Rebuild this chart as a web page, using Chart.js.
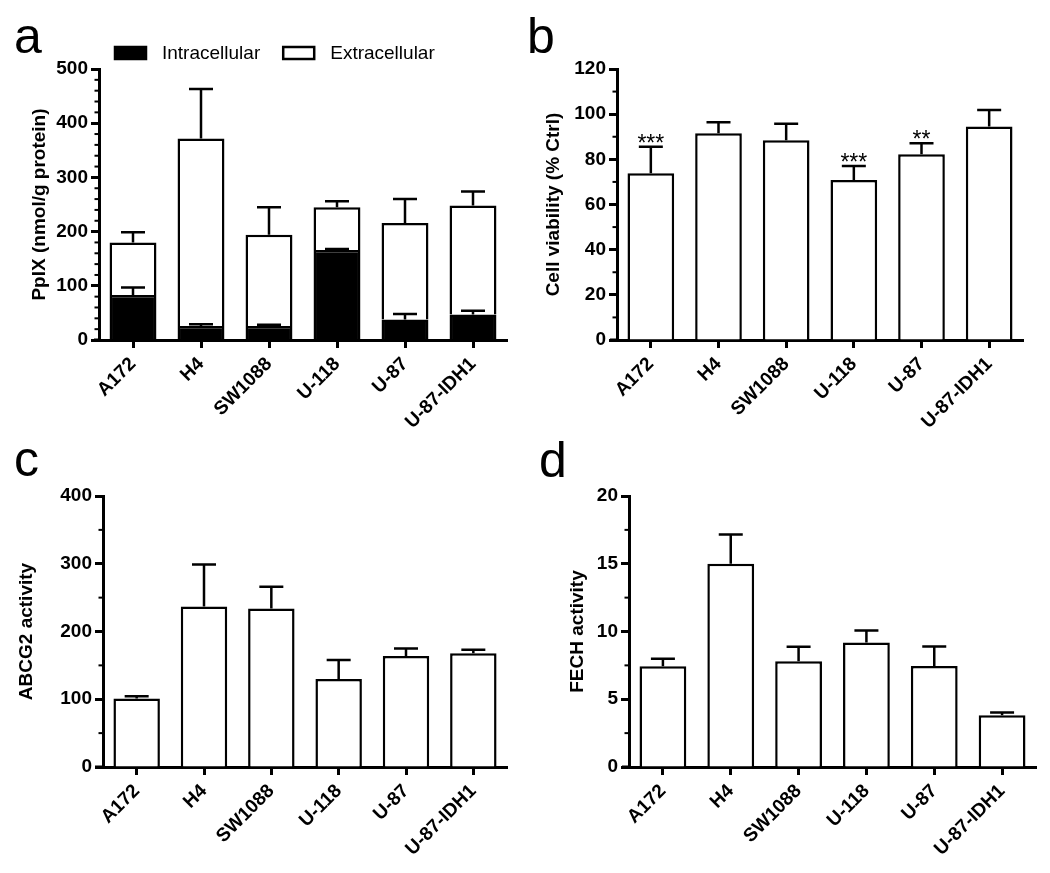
<!DOCTYPE html>
<html>
<head>
<meta charset="utf-8">
<script src="https://cdn.jsdelivr.net/npm/chart.js@4.4.0/dist/chart.umd.min.js"></script>
<style>
html,body{margin:0;padding:0;background:#fff;}
#wrap{position:relative;width:1050px;height:873px;overflow:hidden;}
canvas{position:absolute;}
</style>
</head>
<body>
<div id="wrap">
  <canvas id="ca" width="525" height="440" style="left:0;top:0"></canvas>
  <canvas id="cb" width="525" height="440" style="left:525px;top:0"></canvas>
  <canvas id="cc" width="525" height="433" style="left:0;top:440px"></canvas>
  <canvas id="cd" width="525" height="433" style="left:525px;top:440px"></canvas>
</div>
<script>
// ---------- data ----------
const cellLines = ['A172', 'H4', 'SW1088', 'U-118', 'U-87', 'U-87-IDH1'];

// panel a: PpIX (nmol/g protein)
const ppixIntra    = [83, 26, 26, 166, 38, 47];
const ppixIntraErr = [14, 3, 2, 2, 10, 7];
const ppixExtra    = [97, 346, 168, 79, 178, 201];
const ppixExtraErr = [19, 91, 51, 11, 44, 26];

// panel b: cell viability (% Ctrl)
const viability    = [73.8, 91.5, 88.4, 70.9, 82.2, 94.5];
const viabilityErr = [11.8, 4.9, 7.4, 6.2, 4.9, 7.4];
const viabilitySig = ['***', '', '', '***', '**', ''];

// panel c: ABCG2 activity
const abcg2    = [101, 237, 234, 130, 164, 168];
const abcg2Err = [3.5, 62, 32, 28, 11, 5];

// panel d: FECH activity
const fech    = [7.44, 15.0, 7.81, 9.19, 7.46, 3.82];
const fechErr = [0.54, 2.15, 1.06, 0.89, 1.44, 0.2];

// ---------- style ----------
const FONT = "'Liberation Sans', Arial, Helvetica, sans-serif";
Chart.defaults.font.family = FONT;
Chart.defaults.color = '#000';
const LW = 2.5;
const AXW = 3;

const errPlugin = {
  id: 'errBars',
  afterDatasetsDraw(chart) {
    const {ctx} = chart;
    const y = chart.scales.y;
    ctx.save();
    ctx.strokeStyle = '#000';
    ctx.fillStyle = '#000';
    ctx.lineWidth = LW;
    chart.data.datasets.forEach((ds, di) => {
      if (!ds.errors) return;
      const meta = chart.getDatasetMeta(di);
      meta.data.forEach((bar, i) => {
        const topVal = y.getValueForPixel(bar.y);
        const ey = y.getPixelForValue(topVal + ds.errors[i]);
        ctx.beginPath();
        ctx.moveTo(bar.x, bar.y);
        ctx.lineTo(bar.x, ey);
        ctx.moveTo(bar.x - 12, ey);
        ctx.lineTo(bar.x + 12, ey);
        ctx.stroke();
        if (ds.sig && ds.sig[i]) {
          ctx.font = '23px ' + FONT;
          ctx.textAlign = 'center';
          ctx.textBaseline = 'alphabetic';
          ctx.fillText(ds.sig[i], bar.x, ey + 4);
        }
      });
    });
    ctx.restore();
  }
};

const decorPlugin = {
  id: 'decor',
  afterDraw(chart, args, opts) {
    const {ctx, chartArea} = chart;
    const y = chart.scales.y;
    ctx.save();
    ctx.strokeStyle = '#000';
    ctx.fillStyle = '#000';
    // minor ticks
    ctx.lineWidth = 2;
    const nMinor = Math.round((y.max - y.min) / opts.minorStep);
    for (let k = 0; k <= nMinor; k++) {
      const v = y.min + k * opts.minorStep;
      const r = v / opts.majorStep;
      if (Math.abs(r - Math.round(r)) < 1e-6) continue;
      const py = y.getPixelForValue(v);
      ctx.beginPath();
      ctx.moveTo(chartArea.left - 4.5, py);
      ctx.lineTo(chartArea.left, py);
      ctx.stroke();
    }
    // x-axis short extension left of y-axis
    ctx.lineWidth = AXW;
    ctx.beginPath();
    ctx.moveTo(chartArea.left - opts.axisExt, chartArea.bottom);
    ctx.lineTo(chartArea.left, chartArea.bottom);
    ctx.stroke();
    // panel letter
    ctx.font = '50px ' + FONT;
    ctx.textAlign = 'left';
    ctx.textBaseline = 'alphabetic';
    ctx.fillText(opts.letter, opts.letterX, opts.letterY);
    // legend
    if (opts.legend) {
      let x = opts.legendX;
      const yTop = opts.legendY;
      ctx.font = '19px ' + FONT;
      ctx.textBaseline = 'middle';
      chart.data.datasets.forEach(ds => {
        ctx.fillStyle = ds.backgroundColor;
        ctx.fillRect(x, yTop, 31, 12);
        ctx.lineWidth = LW;
        ctx.strokeStyle = '#000';
        ctx.strokeRect(x, yTop, 31, 12);
        ctx.fillStyle = '#000';
        ctx.fillText(ds.label, x + 47, yTop + 6.5);
        x += 47 + ctx.measureText(ds.label).width + 23;
      });
    }
    ctx.restore();
  }
};

function xScale(h, stacked) {
  return {
    stacked: !!stacked,
    offset: true,
    grid: {display: true, drawOnChartArea: false, drawTicks: true, tickLength: 8,
           tickWidth: AXW, tickColor: '#000', offset: false},
    border: {display: true, color: '#000', width: AXW},
    ticks: {font: {size: 19, weight: 'bold'}, color: '#000', maxRotation: 45,
            minRotation: 45, autoSkip: false, padding: 5},
    afterFit: s => { s.height = h; }
  };
}
function yScale(max, step, title, width, titlePad, stacked) {
  return {
    stacked: !!stacked,
    min: 0, max: max,
    ticks: {stepSize: step, font: {size: 19, weight: 'bold'}, color: '#000', padding: 3},
    grid: {display: true, drawOnChartArea: false, drawTicks: true, tickLength: 8,
           tickWidth: AXW, tickColor: '#000'},
    border: {display: true, color: '#000', width: AXW},
    title: {display: true, text: title, font: {size: 19, weight: 'bold'}, color: '#000',
            padding: {top: titlePad, bottom: 0}},
    afterFit: s => { s.width = width; }
  };
}
function barDs(label, data, errors, fill, sig) {
  return {label, data, errors, sig, backgroundColor: fill, borderColor: '#000',
          borderWidth: LW, barPercentage: 0.69, categoryPercentage: 1.0};
}
function common(padding, decor) {
  return {
    responsive: false, animation: false,
    layout: {padding},
    plugins: {legend: {display: false}, tooltip: {enabled: false}, decor}
  };
}

// panel a
new Chart(document.getElementById('ca'), {
  type: 'bar',
  data: {labels: cellLines, datasets: [
    barDs('Intracellular', ppixIntra, ppixIntraErr, '#000'),
    barDs('Extracellular', ppixExtra, ppixExtraErr, '#fff')
  ]},
  options: Object.assign(common({left: 40, right: 18, top: 69, bottom: 0},
      {letter: 'a', letterX: 14, letterY: 53, minorStep: 20, majorStep: 100, axisExt: 5,
       legend: true, legendX: 115, legendY: 47}), {
    scales: {x: xScale(100, true), y: yScale(500, 100, 'PpIX (nmol/g protein)', 59, -11.4, true)}
  }),
  plugins: [errPlugin, decorPlugin]
});

// panel b
new Chart(document.getElementById('cb'), {
  type: 'bar',
  data: {labels: cellLines, datasets: [
    barDs('Cell viability', viability, viabilityErr, '#fff', viabilitySig)
  ]},
  options: Object.assign(common({left: 10, right: 27, top: 69, bottom: 0},
      {letter: 'b', letterX: 2, letterY: 53, minorStep: 10, majorStep: 20, axisExt: 7}), {
    scales: {x: xScale(100), y: yScale(120, 20, 'Cell viability (% Ctrl)', 82, 7.6)}
  }),
  plugins: [errPlugin, decorPlugin]
});

// panel c
new Chart(document.getElementById('cc'), {
  type: 'bar',
  data: {labels: cellLines, datasets: [
    barDs('ABCG2 activity', abcg2, abcg2Err, '#fff')
  ]},
  options: Object.assign(common({left: 10, right: 18, top: 56, bottom: 0},
      {letter: 'c', letterX: 14, letterY: 36, minorStep: 50, majorStep: 100, axisExt: 8}), {
    scales: {x: xScale(106), y: yScale(400, 100, 'ABCG2 activity', 93, 5.6)}
  }),
  plugins: [errPlugin, decorPlugin]
});

// panel d
new Chart(document.getElementById('cd'), {
  type: 'bar',
  data: {labels: cellLines, datasets: [
    barDs('FECH activity', fech, fechErr, '#fff')
  ]},
  options: Object.assign(common({left: 10, right: 14, top: 56, bottom: 0},
      {letter: 'd', letterX: 14, letterY: 37, minorStep: 2.5, majorStep: 5, axisExt: 7}), {
    scales: {x: xScale(106), y: yScale(20, 5, 'FECH activity', 94, 31.6)}
  }),
  plugins: [errPlugin, decorPlugin]
});
</script>
</body>
</html>
